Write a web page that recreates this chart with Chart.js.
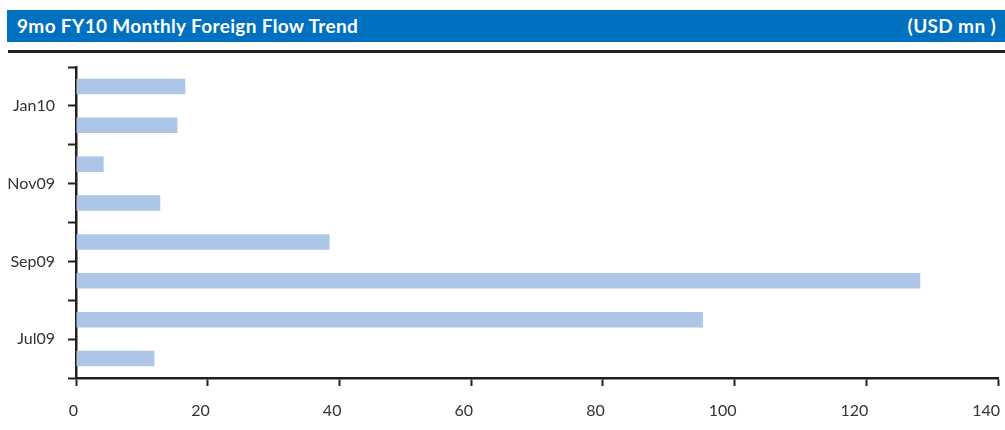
<!DOCTYPE html>
<html lang="en">
  <head>
    <meta charset="UTF-8" />
    <title>9mo FY10 Monthly Foreign Flow Trend</title>
    <script src="https://cdn.jsdelivr.net/npm/chart.js"></script>
    <style>
      html, body {
        margin: 0;
        padding: 0;
        background: #ffffff;
        font-family: 'Lato', sans-serif;
      }
      .header {
        position: absolute;
        left: 7px;
        top: 10px;
        width: 998px;
        height: 32px;
        background-color: #0070c0;
        color: #ffffff;
        font-weight: bold;
        font-size: 19px;
        letter-spacing: 0.35px;
        line-height: 32px;
      }
      .header .title {
        position: absolute;
        left: 10px;
      }
      .header .unit {
        position: absolute;
        right: 9px;
      }
      .rule {
        position: absolute;
        left: 8px;
        top: 50px;
        width: 997px;
        height: 3px;
        background-color: #231f20;
      }
      #chart-box {
        position: absolute;
        left: 0;
        top: 55px;
        width: 1005px;
        height: 375px;
      }
    </style>
  </head>
  <body>
    <div class="header">
      <span class="title">9mo FY10 Monthly Foreign Flow Trend</span>
      <span class="unit">(USD mn )</span>
    </div>
    <div class="rule"></div>
    <div id="chart-box">
      <canvas id="flow-chart"></canvas>
    </div>

    <script>
      // months from bottom to top, labels shown every second one
      const months = ['Jul09', 'Aug09', 'Sep09', 'Oct09', 'Nov09', 'Dec09', 'Jan10', 'Feb10'];
      const flows = [11.9, 95.2, 128.2, 38.5, 12.8, 4.2, 15.4, 16.6];
      const xTicks = [0, 20, 40, 60, 80, 100, 120, 140];

      const axisColor = '#231f20';
      const textColor = '#333333';

      const ctx = document.getElementById('flow-chart').getContext('2d');
      new Chart(ctx, {
        type: 'bar',
        data: {
          labels: months,
          datasets: [
            {
              data: flows,
              backgroundColor: '#adc6e8',
              borderWidth: 0,
              categoryPercentage: 1,
              barPercentage: 0.4,
            },
          ],
        },
        options: {
          indexAxis: 'y',
          responsive: true,
          maintainAspectRatio: false,
          animation: false,
          layout: { padding: { top: 12, right: 7, left: 0, bottom: 0 } },
          plugins: {
            legend: { display: false },
            tooltip: { enabled: false },
          },
          scales: {
            x: {
              min: xTicks[0],
              max: xTicks[xTicks.length - 1],
              afterBuildTicks: (scale) => {
                scale.ticks = xTicks.map((v) => ({ value: v }));
              },
              afterFit: (scale) => {
                scale.height = 52;
                scale.paddingRight = 7;
                scale.paddingLeft = 0;
              },
              grid: {
                drawOnChartArea: false,
                drawTicks: true,
                tickLength: 8,
                tickColor: axisColor,
                tickWidth: 2,
              },
              border: { color: axisColor, width: 2.5 },
              ticks: {
                align: 'end',
                labelOffset: 2,
                padding: 15,
                color: textColor,
                font: { family: 'Lato', size: 16 },
              },
            },
            y: {
              reverse: true,
              afterFit: (scale) => {
                scale.width = 76;
                scale.paddingTop = 0;
                scale.paddingBottom = 0;
              },
              grid: {
                offset: true,
                drawOnChartArea: false,
                drawTicks: true,
                tickLength: 8,
                tickColor: axisColor,
                tickWidth: 2,
              },
              border: { color: axisColor, width: 2.5 },
              ticks: {
                autoSkip: false,
                labelOffset: -19.4,
                padding: 13,
                color: textColor,
                font: { family: 'Lato', size: 16 },
                callback: (value, index) => (index % 2 === 0 ? months[index] : ''),
              },
            },
          },
        },
      });
    </script>
  </body>
</html>
